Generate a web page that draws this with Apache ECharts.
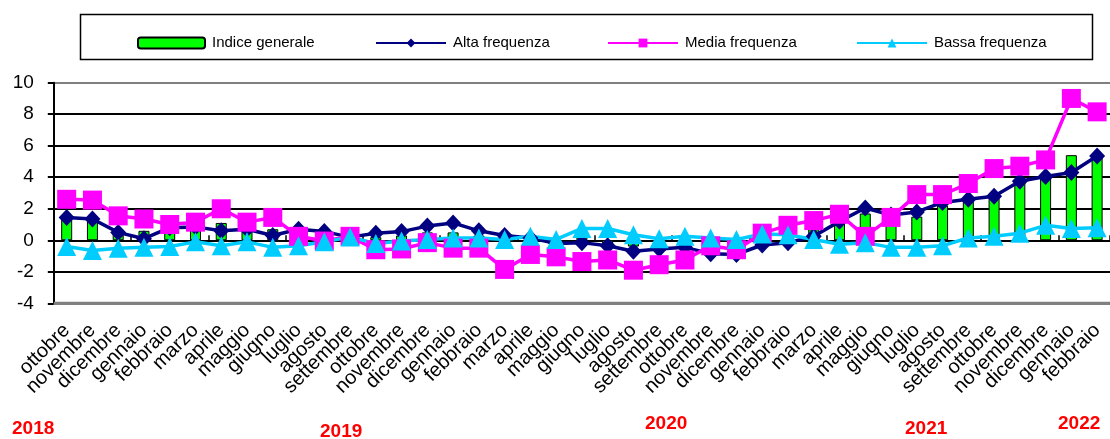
<!DOCTYPE html>
<html><head><meta charset="utf-8">
<script src="https://cdn.jsdelivr.net/npm/echarts@6/dist/echarts.min.js"></script>
<style>html,body{margin:0;padding:0;background:#fff}#c{width:1110px;height:439px}</style>
</head><body><div id="c"></div>
<script>
var categories = ['ottobre','novembre','dicembre',
 'gennaio','febbraio','marzo','aprile','maggio','giugno','luglio','agosto','settembre','ottobre','novembre','dicembre',
 'gennaio','febbraio','marzo','aprile','maggio','giugno','luglio','agosto','settembre','ottobre','novembre','dicembre',
 'gennaio','febbraio','marzo','aprile','maggio','giugno','luglio','agosto','settembre','ottobre','novembre','dicembre',
 'gennaio','febbraio'];
var indiceGenerale = [1.5,1.4,0.6,0.6,0.6,1.0,1.1,0.9,0.7,0.3,0.4,0.2,0.2,0.3,0.5,0.5,0.3,-0.4,-0.1,-0.2,0.2,-0.3,-0.4,-0.4,-0.2,-0.3,-0.2,0.3,0.5,0.7,1.5,1.7,1.1,1.5,2.2,2.6,2.9,3.7,4.0,5.4,5.3];
var altaFrequenza = [1.45,1.35,0.5,0.1,0.8,0.85,0.6,0.7,0.3,0.7,0.55,0.2,0.45,0.55,0.9,1.1,0.6,0.3,0.15,-0.2,-0.15,-0.35,-0.7,-0.55,-0.45,-0.85,-0.9,-0.3,-0.15,0.25,1.2,2.05,1.6,1.8,2.4,2.6,2.8,3.75,4.05,4.3,5.35];
var mediaFrequenza = [2.6,2.55,1.55,1.35,1.0,1.15,2.0,1.15,1.45,0.25,-0.05,0.25,-0.6,-0.55,-0.15,-0.5,-0.5,-1.85,-0.9,-1.05,-1.35,-1.25,-1.9,-1.55,-1.25,-0.35,-0.6,0.45,0.95,1.25,1.65,0.25,1.45,2.9,2.9,3.6,4.55,4.7,5.1,9.0,8.15];
var bassaFrequenza = [-0.4,-0.65,-0.5,-0.45,-0.4,-0.1,-0.35,-0.1,-0.45,-0.35,-0.1,0.2,-0.2,-0.05,0.05,0.15,0.15,0.05,0.25,0.05,0.75,0.75,0.35,0.1,0.25,0.15,0.05,0.4,0.35,0.05,-0.25,-0.15,-0.45,-0.45,-0.35,0.15,0.25,0.45,0.95,0.75,0.8];
var yTicks = {min:-4, max:10, interval:2};
var years = [{t:'2018',x:12,y:429},{t:'2019',x:320,y:432},{t:'2020',x:645,y:424},{t:'2021',x:905,y:429},{t:'2022',x:1058,y:424}];
var seriesNames = ['Indice generale','Alta frequenza','Media frequenza','Bassa frequenza'];

var font = 'Liberation Sans, Arial, sans-serif';
var chart = echarts.init(document.getElementById('c'), null, {renderer:'canvas'});
function lg(name, left, w){
  return {data:[name], left:left, top:30.5, itemWidth:w, itemHeight:11, itemGap:0,
    textStyle:{fontFamily:font, fontSize:15, color:'#000', padding:[0,0,0,2]}, selectedMode:false};
}
var option = {
  animation:false,
  legend:[lg(seriesNames[0],132,67), lg(seriesNames[1],370,70), lg(seriesNames[2],602,70), lg(seriesNames[3],851,70)],
  grid:{left:53.8, right:-4, top:82.7, bottom:135.7, show:false},
  xAxis:[
    {type:'category', data:categories, position:'bottom', gridIndex:0,
     axisLine:{show:false, onZero:false}, axisTick:{show:false},
     axisLabel:{rotate:45, interval:0, fontFamily:font, fontSize:20, color:'#000', margin:24}},
    {type:'category', data:categories, gridIndex:0,
     axisLine:{show:true, onZero:true, lineStyle:{color:'#000', width:1.5}},
     axisTick:{show:true, inside:false, length:5, lineStyle:{color:'#000', width:1.5}},
     axisLabel:{show:false}}
  ],
  yAxis:{type:'value', min:yTicks.min, max:yTicks.max, interval:yTicks.interval,
    axisLine:{show:true, lineStyle:{color:'#000', width:2}},
    axisTick:{show:true, length:6, lineStyle:{color:'#000', width:2}},
    axisLabel:{fontFamily:font, fontSize:19, color:'#000', margin:20},
    splitLine:{show:true, lineStyle:{color:['#808080','#000','#000','#000','#000','#000','#000','#808080'], width:2}}},
  series:[
    {name:seriesNames[0], type:'bar', data:indiceGenerale, barWidth:11, xAxisIndex:0,
     itemStyle:{color:'#00FF00', borderColor:'#000', borderWidth:1}},
    {name:seriesNames[1], type:'line', data:altaFrequenza, xAxisIndex:0,
     symbol:'diamond', symbolSize:[16,17], lineStyle:{color:'#000080', width:3.5},
     itemStyle:{color:'#000080'}},
    {name:seriesNames[2], type:'line', data:mediaFrequenza, xAxisIndex:0,
     symbol:'rect', symbolSize:19, lineStyle:{color:'#FF00FF', width:3.5},
     itemStyle:{color:'#FF00FF'}},
    {name:seriesNames[3], type:'line', data:bassaFrequenza, xAxisIndex:0,
     symbol:'triangle', symbolSize:19, lineStyle:{color:'#00CCFF', width:3.5},
     itemStyle:{color:'#00CCFF'}}
  ],
  graphic:[
    {type:'rect', left:78, top:12, shape:{width:1012, height:45}, style:{fill:'none', stroke:'#000', lineWidth:1.5}, z:-1},
    {type:'line', shape:{x1:53.8, y1:303.3, x2:1110, y2:303.3}, style:{stroke:'#808080', lineWidth:3}, z:5}
  ].concat(years.map(function(y){
    return {type:'text', left:y.x, top:y.y-10, style:{text:y.t, fill:'#FF0000', font:'bold 19px '+font}};
  }))
};
chart.setOption(option);
</script></body></html>
